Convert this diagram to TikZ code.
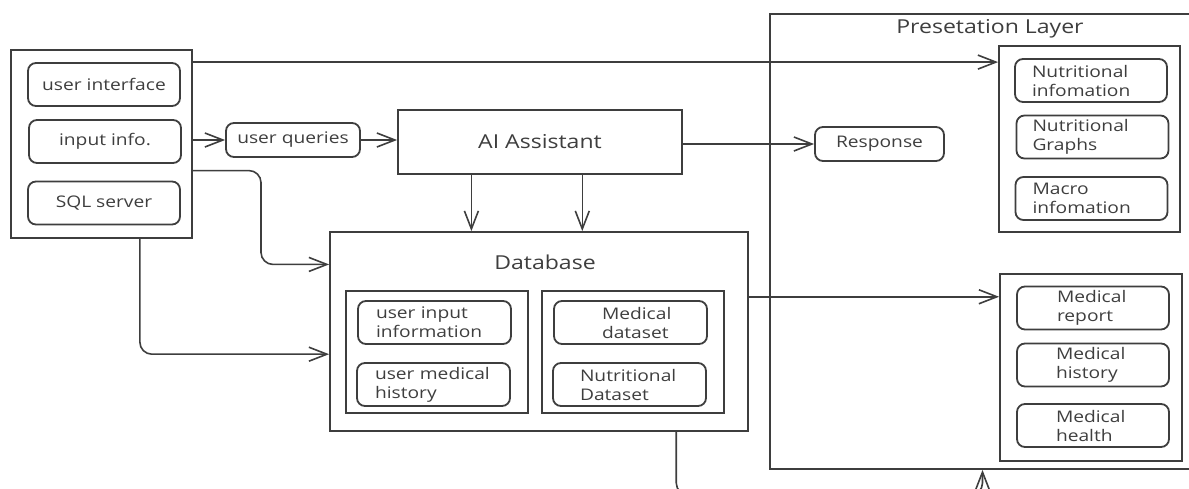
\documentclass[tikz,border=0pt]{standalone}
\usepackage{fontspec}
\setmainfont{Open Sans}[FakeStretch=1.2]
\usetikzlibrary{arrows.meta,calc}
\definecolor{ink}{RGB}{62,62,62}
\tikzset{
  box/.style={draw=ink,line width=0.9pt,inner sep=0pt},
  item/.style={box,rounded corners=4pt,minimum width=76pt,minimum height=21.5pt,align=left},
  pad/.style 2 args={inner xsep=#1,text width=#2},
  title/.style={font=\fontsize{9.6}{11}\selectfont},
  arr/.style={draw=ink,line width=0.8pt,-{Straight Barb[length=9pt,width=7pt]}},
}
\begin{document}
\begin{tikzpicture}[x=0.5pt,y=-0.5pt,font=\fontsize{8}{9.5}\selectfont,text=ink]
\useasboundingbox (0,0) rectangle (1189,488);
% sources
\node[box,minimum width=90.5pt,minimum height=94pt] (src) at (101.5,144) {};
\node[item] (ui) at (104,84.5) {user interface};
\node[item] (inp) at (105,141.5) {input info.};
\node[item] (sql) at (104,203) {SQL server};
\node[item,minimum width=67pt,minimum height=17pt] (queries) at (293,140) {user queries};
\node[box,title,minimum width=142pt,minimum height=32pt] (ai) at (540,142) {AI Assistant};
\node[item,minimum width=64.5pt,minimum height=17pt] (resp) at (879.5,144) {Response};
% presentation layer
\node[box,minimum width=212.5pt,minimum height=227.5pt] (pres) at (982.5,241.5) {};
\node[title] (prestitle) at (990,29) {Presetation Layer};
\node[box,minimum width=90.5pt,minimum height=93pt] (nutgrp) at (1089.5,139) {};
\node[item,pad={8.5pt}{59pt}] (ninfo) at (1091,80.5) {Nutritional\\infomation};
\node[item,pad={8pt}{60pt}] (ngraph) at (1092.5,137) {Nutritional\\Graphs};
\node[item,pad={8.5pt}{59pt}] (macro) at (1091.5,198.5) {Macro\\infomation};
\node[box,minimum width=91pt,minimum height=93.5pt] (medgrp) at (1091,367.5) {};
\node[item,pad={20pt}{36pt}] (mrep) at (1093,308) {Medical\\report};
\node[item,pad={19.5pt}{37pt}] (mhist) at (1093,365) {Medical\\history};
\node[item,pad={19.5pt}{37pt}] (mhealth) at (1093,425.5) {Medical\\health};
% database
\node[box,minimum width=209pt,minimum height=99.5pt] (db) at (539,331.5) {};
\node[title] (dbtitle) at (545,262) {Database};
\node[box,minimum width=91pt,minimum height=61pt] (dbl) at (437,352) {};
\node[item,pad={9pt}{58.5pt}] (uinfo) at (434.5,322.5) {user input\\information};
\node[item,pad={9pt}{58.5pt}] (umed) at (433.5,384.5) {user medical\\history};
\node[box,minimum width=91pt,minimum height=61pt] (dbr) at (633,352) {};
\node[item,pad={24pt}{28.5pt}] (mdata) at (630.5,322.5) {Medical\\dataset};
\node[item,pad={13.5pt}{49.5pt}] (ndata) at (629.5,384.5) {Nutritional\\Dataset};
% connectors
\draw[arr] (src.east |- ui.north) -- (nutgrp.west |- ui.north);
\draw[arr] (src.east |- queries) -- (queries);
\draw[arr] (queries) -- (ai.west |- queries);
\draw[arr] (ai.east |- resp) -- (resp);
\draw[arr] ($(ai.south west)!0.26!(ai.south east)$) coordinate (a1) -- (a1 |- db.north);
\draw[arr] ($(ai.south west)!0.648!(ai.south east)$) coordinate (a2) -- (a2 |- db.north);
\coordinate (s1) at ($(src.north east)!0.64!(src.south east)$);
\coordinate (d1) at ($(db.north west)!0.166!(db.south west)$);
\draw[arr,rounded corners=6pt] (s1) -| ($(s1)!0.5!(d1)$) |- (d1);
\coordinate (s2) at ($(src.south west)!0.71!(src.south east)$);
\coordinate (d2) at ($(db.north west)!0.613!(db.south west)$);
\draw[arr,rounded corners=6pt] (s2) |- (d2);
\coordinate (d3) at ($(db.north east)!0.327!(db.south east)$);
\draw[arr] (d3) -- (d3 -| medgrp.west);
\coordinate (d4) at ($(db.south west)!0.827!(db.south east)$);
\coordinate (low) at (0,495);
\draw[arr,rounded corners=6pt] (d4) |- (low -| pres.south) -- (pres.south);
\end{tikzpicture}
\end{document}
